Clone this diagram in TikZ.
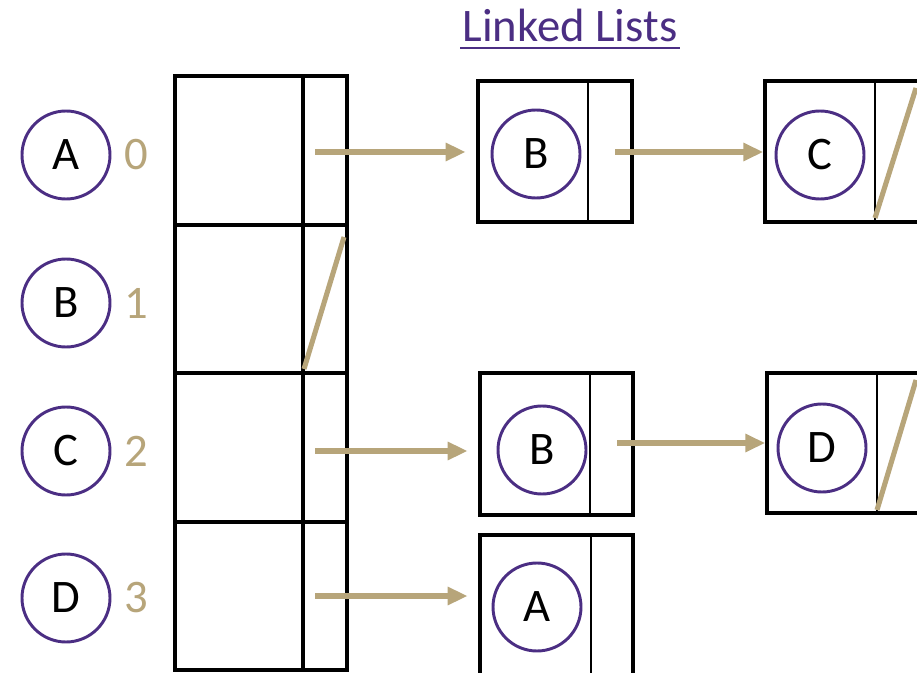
\documentclass[tikz,border=0pt]{standalone}
\usepackage{fontspec}
\setmainfont{Carlito}
\usetikzlibrary{arrows.meta,fit}
\definecolor{uwpurple}{HTML}{4B2E83}
\definecolor{uwgold}{HTML}{B7A57A}
\tikzset{
  vtx/.style={circle, draw=uwpurple, line width=2.2pt, minimum size=66pt, inner sep=0pt, font=\fontsize{35}{40}\selectfont},
  idx/.style={text=uwgold, font=\fontsize{35}{40}\selectfont, inner sep=0pt},
  cellbox/.style={draw=black, line width=2.3pt, inner sep=0pt},
  lnode/.style={draw=black, line width=2.6pt, inner sep=0pt},
  divider/.style={draw=black, line width=1.3pt},
  arrdiv/.style={draw=black, line width=2.4pt},
  ptr/.style={draw=uwgold, line width=3.8pt, -{Triangle[length=15pt,width=13pt]}},
  nullp/.style={draw=uwgold, line width=3.8pt},
}
\begin{document}
\begin{tikzpicture}[x=0.75pt,y=-0.75pt]
\clip (0,0) rectangle (917,673);
\fill[white] (0,0) rectangle (917,673);
% title
\node[text=uwpurple, font=\fontsize{35}{40}\selectfont, anchor=base, inner sep=0pt] (title) at (570,42) {Linked Lists};
\draw[uwpurple, line width=1.6pt] (460,48) -- (680,48);
% vertex circles and indices
\foreach \n/\l/\y/\i in {A/A/155/0, B/B/303/1, C/C/451/2, D/D/598/3}{
  \node[vtx] (v\n) at (66,\y) {\l};
  \node[idx] (i\n) at (136,\y) {\i};
}
% array cells
\foreach \k/\ya/\yb in {0/76/225, 1/225/373, 2/373/522, 3/522/670}{
  \node[cellbox, fit={(175,\ya) (347,\yb)}] (cell\k) {};
  \draw[arrdiv] (303,\ya) -- (303,\yb);
}
% list nodes
\node[lnode, fit={(478,81) (632,222)}] (n0a) {};
\draw[divider] (588,81) -- (588,222);
\node[vtx] (c0a) at (536,154) {B};
\node[lnode, fit={(765,81) (960,222)}] (n0b) {};
\draw[divider] (875,81) -- (875,222);
\node[vtx] (c0b) at (820,155) {C};
\draw[nullp] (875,218) -- (916,88);

\node[lnode, fit={(480,373) (633,515)}] (n2a) {};
\draw[divider] (590,373) -- (590,515);
\node[vtx] (c2a) at (542,450) {B};
\node[lnode, fit={(767,373) (960,513)}] (n2b) {};
\draw[divider] (877,373) -- (877,513);
\node[vtx] (c2b) at (822,448) {D};
\draw[nullp] (877,510) -- (916,380);

\node[lnode, fit={(480,535) (633,700)}] (n3a) {};
\draw[divider] (591,535) -- (591,700);
\node[vtx] (c3a) at (537,607) {A};

% null pointer in array row 1
\draw[nullp] (304,369) -- (344,237);

% pointers
\coordinate (p0) at (315,152);
\coordinate (p2) at (315,451);
\coordinate (p3) at (315,596);
\coordinate (q0) at (615,152);
\coordinate (q2) at (617,443);
\draw[ptr, shorten >=8pt] (p0) -- (n0a.west |- p0);
\draw[ptr] (q0) -- (n0b.west |- q0);
\draw[ptr, shorten >=8pt] (p2) -- (n2a.west |- p2);
\draw[ptr] (q2) -- (n2b.west |- q2);
\draw[ptr, shorten >=8pt] (p3) -- (n3a.west |- p3);
\end{tikzpicture}
\end{document}
